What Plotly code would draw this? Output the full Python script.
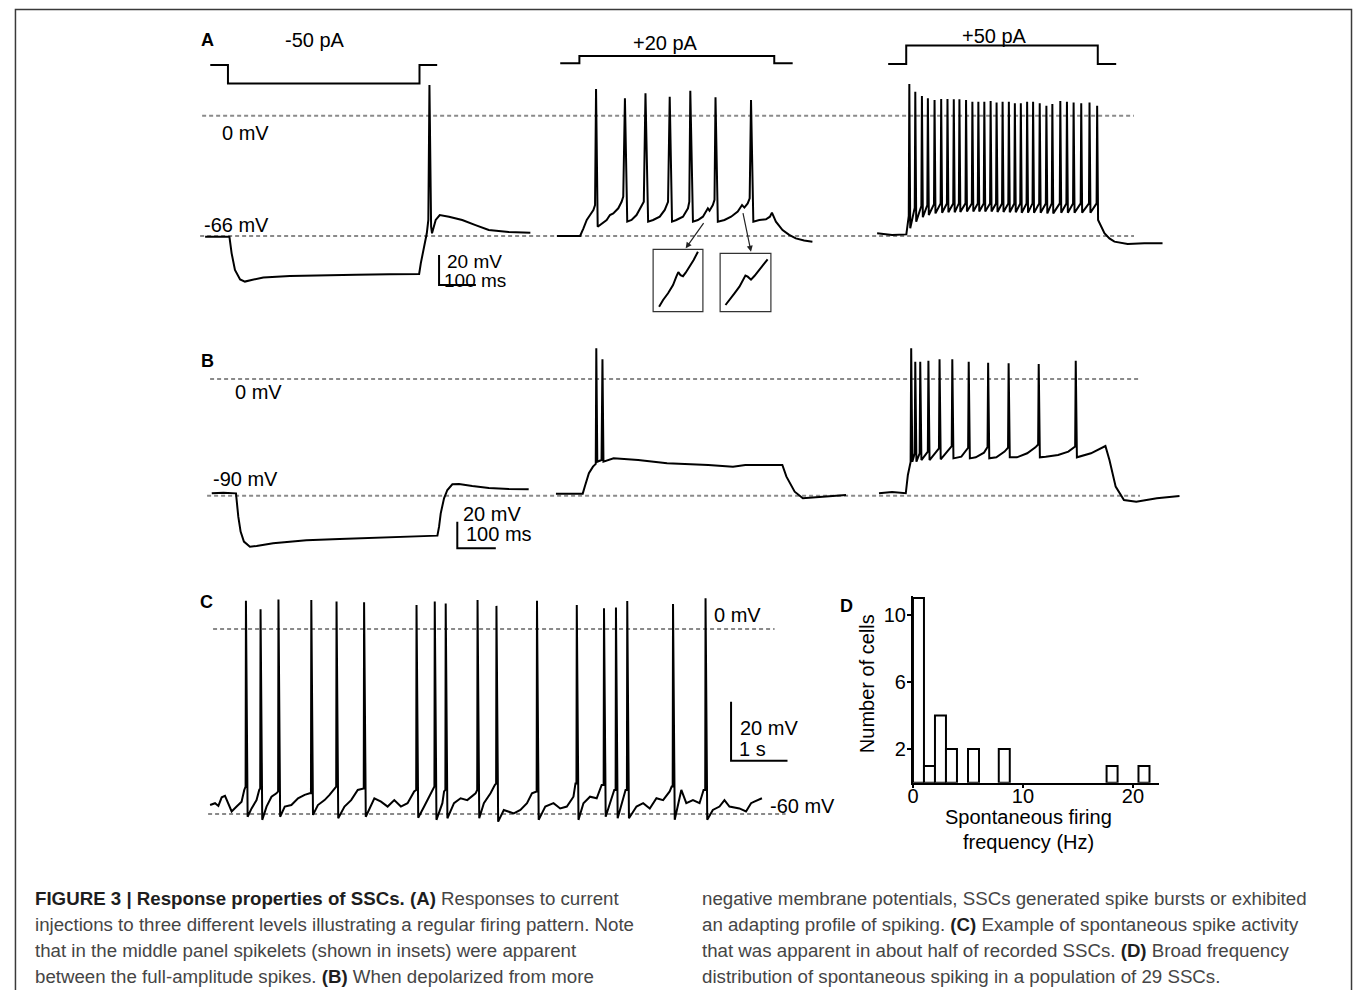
import plotly.graph_objects as go

# ============================================================ data
# Panel A: membrane potential sweeps (time ms, potential mV) and current steps (pA)
AL_T = [0, 66, 72, 81, 95, 108, 126, 158, 230, 320, 410, 500, 581, 585.5, 594.6, 601.8, 606, 609, 613.5,
        616, 626, 637, 662, 698, 734, 770, 824, 883]
AL_V = [-66.4, -66.4, -75.5, -84.6, -89.8, -91.0, -90.1, -88.7, -87.9, -87.4, -87.2, -87.0, -86.8, -81.0,
        -71.9, -64.5, -57.2, 16.8, -60.9, -64.5, -57.2, -54.5, -55.4, -57.2, -60.0, -62.7, -63.8, -64.2]

AM_T = [0.9, 63.9, 73.0, 82.0, 91.0, 100.0, 104.5, 107.2, 111.7, 122.5, 136.0, 145.0, 154.0, 167.6, 176.6,
        181.1, 185.6, 191.9, 203.6, 217.1, 230.6, 236.9, 241.4, 248.6, 262.2, 280.2, 293.7, 302.7, 307.2,
        313.5, 325.2, 343.2, 356.8, 360.4, 363.1, 370.3, 383.8, 397.3, 410.8, 415.3, 424.3, 428.8, 431.5,
        437.8, 455.9, 473.9, 491.9, 503.6, 509.9, 518.9, 524.3, 527.9, 534.2, 550.4, 568.5, 579.3, 584.7,
        595.5, 613.5, 631.5, 649.5, 672.1, 694.6]
AM_V = [-66.0, -66.0, -61.8, -57.2, -54.5, -51.7, -49.0, 14.7, -60.9, -59.4, -57.2, -54.5, -53.6, -50.8,
        -47.2, -44.4, 9.5, -58.1, -57.2, -54.5, -49.9, -47.2, 12.3, -58.1, -57.2, -55.4, -51.7, -47.2, 10.4,
        -58.1, -57.2, -55.4, -50.8, -47.2, 13.7, -58.1, -57.2, -55.4, -50.8, -52.1, -49.0, -46.2, 10.1,
        -58.1, -57.2, -55.4, -52.6, -49.0, -50.4, -48.1, -45.3, 8.6, -58.1, -57.2, -56.8, -55.4, -53.2,
        -58.1, -62.7, -65.4, -67.3, -68.5, -69.1]

AR_SPK_T = [87.4, 103.6, 121.6, 137.8, 155.9, 173.9, 191.0, 208.1, 223.4, 241.4, 258.6, 274.8, 291.0, 308.1,
            324.3, 340.6, 357.6, 373.9, 390.1, 407.2, 423.4, 441.4, 459.5, 475.7, 497.3, 515.3, 533.4, 554.1,
            576.6, 597.3]
AR_PEAK = [17.4, 13.2, 10.8, 9.5, 8.6, 9.2, 9.2, 9.0, 9.0, 8.6, 7.7, 7.7, 7.7, 8.1, 7.3, 7.7, 7.7, 6.8, 6.8,
           7.7, 7.7, 6.8, 5.5, 6.4, 8.1, 7.7, 7.2, 6.8, 7.2, 5.5]
AR_TROUGH = [-61.8, -58.1, -55.7, -54.5, -53.6, -53.2, -53.0, -53.0, -52.8, -52.6, -52.6, -52.6, -52.6, -52.6,
             -52.8, -52.8, -53.0, -53.0, -53.2, -53.2, -53.2, -53.2, -53.6, -53.6, -53.2, -53.2, -53.2, -53.2,
             -53.2, -57.2]
AR_THRESH = [-55.0, -50.5, -49.5, -49.0, -48.5, -48.1, -48.1, -48.1, -48.1, -48.1, -48.1, -48.1, -48.1, -48.1,
             -48.1, -48.1, -48.1, -48.1, -48.1, -48.1, -48.1, -48.1, -48.1, -48.1, -48.1, -48.1, -48.1, -48.1,
             -48.1, -48.1]
AR_SUB_T = [0, 40.5, 79.3, 617.1, 630.6, 644.2, 680.2, 725.2, 774.8]
AR_SUB_V = [-64.5, -65.4, -65.1, -64.5, -67.3, -69.1, -70.4, -70.0, -70.0]

AL_I_T = [14, 62, 62, 582, 582, 630]
AL_I = [0, 0, -50, -50, 0, 0]
AM_I_T = [10, 62, 62, 591, 591, 641]
AM_I = [0, 0, 20, 20, 0, 0]
AR_I_T = [30, 79, 79, 599, 599, 649]
AR_I = [0, 0, 50, 50, 0, 0]

# insets of panel A (spikelets, zoomed; arbitrary units)
IN1_T = [6, 10, 15, 20, 23.3, 25.3, 27.5, 30, 32.7, 36.7, 40.7, 45]
IN1_V = [5, 11.7, 18.4, 26.7, 35, 39.5, 36.5, 35.5, 39, 45, 51.7, 60]
IN2_T = [5.4, 9.4, 14.4, 19.4, 22.7, 25.4, 27.7, 31, 34.4, 39.4, 44.4, 47.7]
IN2_V = [6.7, 12.4, 18.4, 25, 31.7, 36.2, 35, 32.0, 35.7, 41.7, 47.7, 52.4]

# Panel B (time ms, potential mV)
BL_T = [4.3, 34.5, 67.2, 73.2, 79.2, 87.8, 103.4, 120.6, 163.6, 249.8, 335.9, 422, 508.2, 590, 594.3, 598.6,
        607.2, 615.8, 628.8, 646, 680.4, 723.5, 775.2, 826.9]
BL_V = [-88.2, -87.7, -88.2, -106.2, -117.7, -125.4, -129.3, -128.8, -126.7, -124.4, -123.4, -122.4, -121.6,
        -120.8, -113.9, -103.6, -92.0, -85.6, -81.2, -81.0, -82.5, -84.1, -84.8, -85.1]

BM_T = [6.2, 75.7, 80.9, 91.7, 102.3, 109.5, 110.9, 113.5, 124.5, 126.9, 129.5, 155.8, 219.6, 294.6, 401.6,
        465.6, 497.7, 593.8, 604.4, 625.8, 647, 700.5, 759.2]
BM_V = [-88.4, -88.4, -83.1, -72.7, -67.6, -65.5, 23.7, -63.8, -62.5, 15.2, -63.8, -61.2, -62.5, -65.0, -66.3,
        -67.6, -66.3, -66.3, -75.3, -86.9, -92.0, -90.8, -89.5]

BR_SPK_T = [88.4, 99.0, 111.9, 133.1, 162.0, 195.1, 237.7, 288.1, 341.3, 419.4, 515.5]
BR_PEAK = [23.7, 13.3, 13.3, 14.1, 15.2, 15.2, 13.3, 12.6, 12.1, 11.6, 14.1]
BR_TROUGH = [-63.8, -63.8, -62.5, -62.5, -61.9, -61.2, -61.2, -61.2, -60.4, -60.4, -60.4]
BR_THRESH = [-64.0, -57.3, -57.3, -56.0, -53.5, -51.7, -53.0, -52.5, -53.0, -50.5, -52.0]
BR_SUB_T = [4.9, 38.8, 74.4, 79.8, 218.6, 232.5, 256, 277.4, 309.4, 330.8, 362.8, 389.5, 410.9, 437.6, 469.7,
            496.3, 555, 592.5, 603, 619.1, 640.6, 672.6, 726, 784.8]
BR_SUB_V = [-88.1, -87.1, -88.1, -74.0, -59.9, -54.7, -60.4, -56.8, -60.4, -56.0, -60.4, -57.3, -52.7, -59.9,
            -58.6, -56.0, -57.3, -51.7, -62.5, -83.0, -93.3, -94.6, -92.0, -90.2]

# Panel C: spontaneous activity (time s, potential mV)
C_SPK_T = [0.635, 0.894, 1.211, 1.793, 2.240, 2.728, 3.657, 3.980, 4.174, 4.738, 5.073, 5.791, 6.496, 6.978,
           7.190, 7.390, 8.201, 8.777]
C_PEAK = [9.2, 6.4, 9.6, 9.4, 8.9, 8.7, 7.8, 8.9, 8.3, 9.4, 7.5, 9.2, 7.8, 6.7, 7.0, 9.1, 8.1, 10.0]
C_TROUGH = [-60.9, -61.9, -60.9, -60.3, -61.4, -60.9, -61.2, -61.9, -61.4, -61.4, -62.5, -61.9, -61.9, -60.9,
            -61.4, -61.4, -61.9, -61.9]
C_THRESH = [-51.1, -51.7, -52.7, -53.3, -51.1, -51.7, -52.2, -51.1, -52.2, -52.2, -50.1, -52.7, -50.1, -50.6,
            -52.2, -52.2, -51.1, -52.2]
C_SUB_T = [0.000, 0.088, 0.147, 0.206, 0.264, 0.294, 0.382, 0.470, 0.558, 0.605, 0.735, 0.823, 0.870, 1.000,
           1.088, 1.176, 1.323, 1.440, 1.558, 1.675, 1.764, 1.910, 2.028, 2.116, 2.205, 2.381, 2.499, 2.616,
           2.693, 2.910, 3.028, 3.145, 3.263, 3.380, 3.498, 3.615, 3.792, 3.939, 4.115, 4.145, 4.321, 4.438,
           4.556, 4.703, 4.850, 4.968, 5.044, 5.203, 5.291, 5.379, 5.497, 5.614, 5.702, 5.761, 5.938, 6.084,
           6.202, 6.320, 6.437, 6.473, 6.614, 6.731, 6.849, 6.937, 7.084, 7.160, 7.290, 7.360, 7.554, 7.672,
           7.789, 7.907, 8.025, 8.142, 8.177, 8.348, 8.436, 8.554, 8.671, 8.742, 8.906, 9.024, 9.112, 9.200,
           9.377, 9.494, 9.583, 9.641, 9.700, 9.776]
C_SUB_V = [-57.1, -56.5, -57.4, -54.6, -54.1, -55.5, -59.2, -57.6, -56.0, -52.2, -58.2, -55.5, -52.2, -57.6,
           -54.4, -53.3, -57.6, -57.1, -54.9, -53.8, -53.3, -57.1, -55.5, -53.8, -51.7, -57.6, -55.5, -52.2,
           -51.7, -54.9, -56.0, -57.6, -55.5, -57.6, -56.5, -52.7, -57.6, -52.2, -56.5, -52.7, -56.5, -54.9,
           -55.5, -53.3, -56.5, -53.3, -50.6, -58.7, -59.2, -59.8, -58.7, -56.5, -53.3, -52.7, -57.6, -56.5,
           -58.2, -57.6, -54.4, -50.1, -56.5, -54.4, -54.9, -50.6, -56.5, -52.2, -56.5, -52.2, -57.6, -56.5,
           -58.2, -54.9, -55.5, -52.7, -51.1, -52.2, -56.5, -55.5, -56.5, -52.2, -58.7, -57.6, -55.5, -57.6,
           -58.2, -59.2, -56.5, -56.0, -55.5, -54.9]

# Panel D: histogram of spontaneous firing frequency
D_BIN_CENTER = [0.5, 1.5, 2.5, 3.5, 5.5, 8.3, 18.1, 21.0]
D_COUNT = [11, 1, 4, 2, 2, 2, 1, 1]
D_BIN_WIDTH = 1.0
D_XTICKS = [0, 10, 20]
D_YTICKS = [2, 6, 10]

CAPTION_LEFT = [
    "<b>FIGURE 3 | Response properties of SSCs. (A)</b> Responses to current",
    "injections to three different levels illustrating a regular firing pattern. Note",
    "that in the middle panel spikelets (shown in insets) were apparent",
    "between the full-amplitude spikes. <b>(B)</b> When depolarized from more",
]
CAPTION_RIGHT = [
    "negative membrane potentials, SSCs generated spike bursts or exhibited",
    "an adapting profile of spiking. <b>(C)</b> Example of spontaneous spike activity",
    "that was apparent in about half of recorded SSCs. <b>(D)</b> Broad frequency",
    "distribution of spontaneous spiking in a population of 29 SSCs.",
]

# ============================================================ helpers
W, H = 1355, 990
OFF = 0   # body margin removed by post_script below
FONT = "Liberation Sans, Arial, Helvetica, sans-serif"


def PX(x):
    return (x - OFF) / W


def PY(y):
    return 1 - (y - OFF) / H


def spike_train(sub_t, sub_v, spk_t, peak, trough, thresh, rise, fall):
    pts = list(zip(sub_t, sub_v))
    for t, p, tr, th in zip(spk_t, peak, trough, thresh):
        pts += [(t - rise, th), (t, p), (t + fall, tr)]
    pts.sort(key=lambda q: q[0])
    return [q[0] for q in pts], [q[1] for q in pts]


layout = dict(width=W, height=H, margin=dict(l=0, r=0, t=0, b=0, pad=0),
              paper_bgcolor="white", plot_bgcolor="rgba(0,0,0,0)", showlegend=False,
              font=dict(family=FONT, color="black", size=20))
_n = [0]


def new_axes(x0, x1, xo, xs, y0, y1, yo, ys, visible=False):
    _n[0] += 1
    s = "" if _n[0] == 1 else str(_n[0])
    layout["xaxis" + s] = dict(domain=[PX(x0), PX(x1)], range=[(x0 - xo) / xs, (x1 - xo) / xs],
                               visible=visible, anchor="y" + s, showgrid=False, zeroline=False, fixedrange=True)
    layout["yaxis" + s] = dict(domain=[PY(y1), PY(y0)], range=[(yo - y1) / ys, (yo - y0) / ys],
                               visible=visible, anchor="x" + s, showgrid=False, zeroline=False, fixedrange=True)
    return "x" + s, "y" + s


AX_AL = new_axes(195, 545, 200, 0.37, 25, 320, 115.7, 1.823)
AX_ALI = new_axes(195, 545, 200, 0.37, 25, 320, 65, 0.37)
AX_AM = new_axes(548, 850, 553, 0.37, 25, 320, 115.7, 1.823)
AX_AMI = new_axes(548, 850, 553, 0.37, 25, 320, 63.3, 0.37)
AX_AR = new_axes(860, 1190, 875, 0.37, 25, 320, 115.7, 1.823)
AX_ARI = new_axes(860, 1190, 875, 0.37, 25, 320, 64, 0.37)
AX_BL = new_axes(195, 545, 205, 0.387, 340, 565, 379, 1.2967)
AX_BM = new_axes(548, 860, 550, 0.387, 340, 565, 379, 1.2967)
AX_BR = new_axes(865, 1190, 875, 0.387, 340, 565, 379, 1.2967)
AX_C = new_axes(195, 840, 205, 56.7, 585, 830, 629, 3.083)
AX_IN1 = new_axes(650, 700, 650, 1, 249.3, 311.7, 311.7, 1)
AX_IN2 = new_axes(717.3, 768.3, 717.3, 1, 253.3, 311.7, 311.7, 1)
AX_D = new_axes(911, 1158, 911, 11.05, 596, 782.7, 782.7, 16.8, visible=True)

fig = go.Figure()


def line(x, y, ax, width=2.0, color="black"):
    fig.add_trace(go.Scatter(x=x, y=y, mode="lines", xaxis=ax[0], yaxis=ax[1],
                             line=dict(color=color, width=width), hoverinfo="skip"))


# current steps
line(AL_I_T, AL_I, AX_ALI)
line(AM_I_T, AM_I, AX_AMI)
line(AR_I_T, AR_I, AX_ARI)
# voltage sweeps
line(AL_T, AL_V, AX_AL)
line(AM_T, AM_V, AX_AM)
t, v = spike_train(AR_SUB_T, AR_SUB_V, AR_SPK_T, AR_PEAK, AR_TROUGH, AR_THRESH, 1.5, 2.5)
line(t, v, AX_AR)
line(IN1_T, IN1_V, AX_IN1)
line(IN2_T, IN2_V, AX_IN2)
line(BL_T, BL_V, AX_BL)
line(BM_T, BM_V, AX_BM)
t, v = spike_train(BR_SUB_T, BR_SUB_V, BR_SPK_T, BR_PEAK, BR_TROUGH, BR_THRESH, 1.5, 3.0)
line(t, v, AX_BR)
t, v = spike_train(C_SUB_T, C_SUB_V, C_SPK_T, C_PEAK, C_TROUGH, C_THRESH, 0.006, 0.03)
line(t, v, AX_C)

# histogram
fig.add_trace(go.Bar(x=D_BIN_CENTER, y=D_COUNT, width=[D_BIN_WIDTH] * len(D_COUNT),
                     xaxis=AX_D[0], yaxis=AX_D[1],
                     marker=dict(color="white", line=dict(color="black", width=2)), hoverinfo="skip"))
layout["xaxis" + AX_D[0][1:]].update(showline=True, linecolor="black", linewidth=2, ticks="outside",
                                     ticklen=3, tickwidth=2, tickcolor="black", tickvals=D_XTICKS,
                                     ticklabelstandoff=-9,
                                     tickfont=dict(size=20, family=FONT, color="black"))
layout["yaxis" + AX_D[1][1:]].update(showline=True, linecolor="black", linewidth=2, ticks="outside",
                                     ticklen=4, tickwidth=2, tickcolor="black", tickvals=D_YTICKS,
                                     ticklabelstandoff=-3,
                                     tickfont=dict(size=20, family=FONT, color="black"))

# ============================================================ shapes
shapes = []
DASH = dict(color="#8a8a8a", width=2, dash="4px,3px")


def hline(yref, yval, xa, xb):
    shapes.append(dict(type="line", xref="paper", yref=yref, x0=PX(xa), x1=PX(xb), y0=yval, y1=yval,
                       line=DASH, layer="below"))


hline(AX_AL[1], 0, 197, 1133)
hline(AX_AL[1], -66, 195, 1133)
hline(AX_BL[1], 0, 205, 1139)
hline(AX_BL[1], -90, 202, 1139)
hline(AX_C[1], 0, 208, 772)
hline(AX_C[1], -60, 203, 783)


def scalebar(ax, t0, t1, v0, v1):
    shapes.append(dict(type="path", xref=ax[0], yref=ax[1],
                       path=f"M {t0},{v0} L {t0},{v1} L {t1},{v1}",
                       line=dict(color="black", width=2)))


scalebar(AX_AL, 635.1, 735.1, -76.4, -92.9)
scalebar(AX_BL, 641.6, 741.6, -110.0, -130.6)
scalebar(AX_C, 9.229, 10.229, -23.6, -42.7)

for (xa, ya, xb, yb) in [(650, 249.3, 700, 311.7), (717.3, 253.3, 768.3, 311.7)]:
    shapes.append(dict(type="rect", xref="paper", yref="paper", x0=PX(xa), x1=PX(xb), y0=PY(yb), y1=PY(ya),
                       line=dict(color="#333333", width=1.2)))

# outer frame
shapes.append(dict(type="rect", xref="paper", yref="paper", x0=PX(9.5), x1=PX(1351.5), y0=PY(1100), y1=PY(9.5),
                   line=dict(color="#3a3a3a", width=1.5)))

# ============================================================ texts
ann = []


def txt(s, x, y, size=20, xanchor="center", yanchor="middle", angle=0, color="black"):
    ann.append(dict(text=s, x=PX(x), y=PY(y), xref="paper", yref="paper", showarrow=False,
                    xanchor=xanchor, yanchor=yanchor, textangle=angle,
                    font=dict(family=FONT, size=size, color=color)))


for lab, x, y in [("A", 202, 40), ("B", 202, 361), ("C", 201, 602), ("D", 844, 606)]:
    txt(f"<b>{lab}</b>", x, y, size=18)

txt("-50 pA", 310, 40)
txt("+20 pA", 662, 43)
txt("+50 pA", 993, 36)
txt("0 mV", 241, 133)
txt("-66 mV", 232, 225)
txt("20 mV", 441, 261, size=19, xanchor="left")
txt("100 ms", 438, 281, size=19, xanchor="left")
txt("0 mV", 254, 392)
txt("-90 mV", 241, 479)
txt("20 mV", 488, 514)
txt("100 ms", 495, 534)
txt("0 mV", 735, 615)
txt("-60 mV", 800, 806)
txt("20 mV", 766, 728)
txt("1 s", 750, 749)
txt("Number of cells", 865, 684, angle=-90)
txt("Spontaneous firing", 1027, 817)
txt("frequency (Hz)", 1027, 842)

CAP_SIZE = 18.7
for i, s in enumerate(CAPTION_LEFT):
    txt(s.replace("<b>", "<b style='color:#1e1e1e'>"), 27, 898 + 26 * i, size=CAP_SIZE, xanchor="left",
        color="#454545")
for i, s in enumerate(CAPTION_RIGHT):
    txt(s.replace("<b>", "<b style='color:#1e1e1e'>"), 697, 898 + 26 * i, size=CAP_SIZE, xanchor="left",
        color="#454545")

# arrows to the insets
for hx, hy, tx, ty in [(682.7, 248.3, 701.7, 221.7), (748.3, 251.7, 740, 211.7)]:
    ann.append(dict(text="", x=PX(hx), y=PY(hy), xref="paper", yref="paper", showarrow=True,
                    ax=tx - hx, ay=ty - hy, axref="pixel", ayref="pixel", arrowhead=2, arrowsize=1,
                    arrowwidth=1.2, arrowcolor="#222222", standoff=0))

layout["shapes"] = shapes
layout["annotations"] = ann
fig.update_layout(**layout)
fig.write_html("out.html", config={"displayModeBar": False, "staticPlot": True},
               post_script="document.body.style.margin='0';document.body.style.overflow='hidden';")
